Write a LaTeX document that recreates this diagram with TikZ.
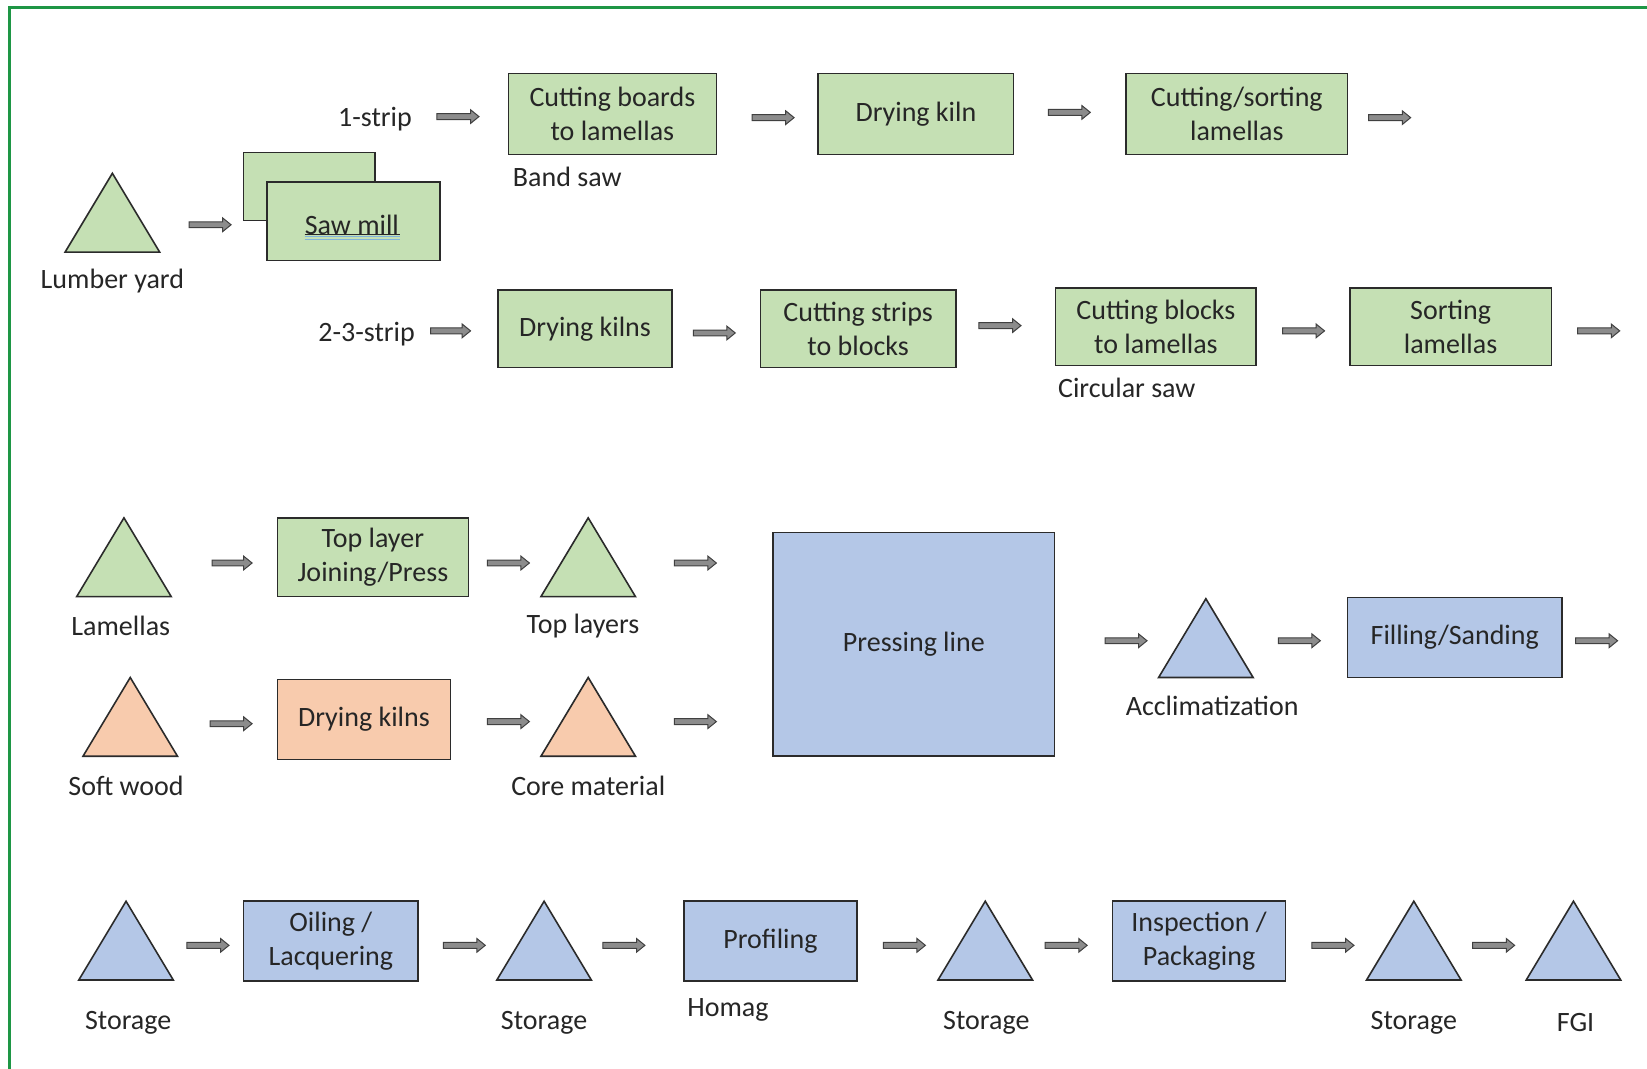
\documentclass[tikz,border=0pt]{standalone}
\usepackage{fontspec}
\setmainfont{Carlito}
\definecolor{gfill}{HTML}{C5E0B4}
\definecolor{bfill}{HTML}{B4C7E7}
\definecolor{ofill}{HTML}{F8CBAD}
\definecolor{edge}{HTML}{2B2B2B}
\definecolor{txt}{HTML}{262626}
\definecolor{frame}{HTML}{1E9645}
\definecolor{arrfill}{HTML}{8C8C8C}
\definecolor{squig}{HTML}{7FB2DC}
\newcommand\mybox[7]{\node[#6, minimum width={(#4-#2)*0.5252pt}, minimum height={(#5-#3)*0.5252pt}] (#1) at ({(#2+#4)/2},{(#3+#5)/2}) {#7};}
\newcommand\mytri[4]{\draw[tri, fill=#4] (#2,#3) -- ++(45,75) -- ++(-90,0) -- cycle; \coordinate (#1) at (#2,#3+50);}
\newcommand\blkarr[4]{\draw[arr] (#2,#4-2.8) -- (#3-8,#4-2.8) -- (#3-8,#4-6.5) -- (#3,#4) -- (#3-8,#4+6.5) -- (#3-8,#4+2.8) -- (#2,#4+2.8) -- cycle; \coordinate (#1) at (#3,#4);}
\begin{document}
\begin{tikzpicture}[x=0.5252pt, y=-0.5252pt,
  every node/.style={font=\fontsize{14}{16.8}\selectfont, text=txt},
  boxbase/.style={draw=edge, line width=0.8pt, inner sep=0pt, align=center},
  gbox/.style={boxbase, fill=gfill},
  bbox/.style={boxbase, fill=bfill},
  obox/.style={boxbase, fill=ofill},
  tri/.style={draw=edge, line width=0.8pt, line join=miter},
  arr/.style={draw=edge!90, fill=arrfill, line width=0.5pt},
  lbl/.style={inner sep=0pt, yshift=-1.5pt}]
\useasboundingbox (0,0) rectangle (1568,1017);
\fill[white] (0,0) rectangle (1568,1017);
\draw[frame, line width=1.5pt] (9.5,6.7) rectangle (1700,1100);

% Row 1
\mytri{ly}{107}{165}{gfill}
\node[lbl] (lyl) at (107,265) {Lumber yard};
\blkarr{a1}{180}{220}{214}
\node[gbox, minimum width={125*0.5252pt}, minimum height={65*0.5252pt}] (smback) at (294.5,177.5) {};
\mybox{sm}{254}{173}{419}{248}{gbox}{}
\node[lbl] (smt) at (335,211) {Saw mill};
\draw[txt, line width=0.5pt] (290,223) -- (381,223);
\draw[squig, line width=0.6pt] (290,225.5) -- (381,225.5);
\draw[squig, line width=0.6pt] (290,228) -- (381,228);
\node[lbl] (s1) at (357,111) {1-strip};
\blkarr{a2}{416}{456}{111}
\mybox{cb}{484}{70}{682}{147}{gbox}{Cutting boards\\to lamellas}
\node[lbl, anchor=west] (bs) at (488,166) {Band saw};
\blkarr{a3}{716}{756}{112}
\mybox{dk}{779}{70}{965}{147}{gbox}{Drying kiln}
\blkarr{a4}{998}{1038}{107}
\mybox{cs}{1072}{70}{1283}{147}{gbox}{Cutting/sorting\\lamellas}
\blkarr{a5}{1303}{1343}{112}

% Row 2
\node[lbl] (s23) at (349,315) {2-3-strip};
\blkarr{a6}{410}{448}{315}
\mybox{dks}{474}{276}{640}{350}{gbox}{Drying kilns}
\blkarr{a7}{660}{700}{317}
\mybox{cst}{724}{276}{910}{350}{gbox}{Cutting strips\\to blocks}
\blkarr{a8}{932}{972}{310}
\mybox{cbl}{1005}{274}{1196}{348}{gbox}{Cutting blocks\\to lamellas}
\node[lbl, anchor=west] (csaw) at (1007,366) {Circular saw};
\blkarr{a9}{1221}{1261}{315}
\mybox{sl}{1285}{274}{1477}{348}{gbox}{Sorting\\lamellas}
\blkarr{a10}{1502}{1542}{315}

% Row 3
\mytri{lam}{118}{493}{gfill}
\node[lbl] (laml) at (115,593) {Lamellas};
\blkarr{a11}{202}{240}{536}
\mybox{tl}{264}{493}{446}{568}{gbox}{Top layer\\Joining/Press}
\blkarr{a12}{464}{504}{536}
\mytri{tly}{560}{493}{gfill}
\node[lbl] (tlyl) at (555,593) {Top layers};
\blkarr{a13}{642}{682}{536}
\mybox{pl}{736}{507}{1004}{720}{bbox}{Pressing line}
\blkarr{a14}{1052}{1092}{610}
\mytri{acc}{1148}{570}{bfill}
\node[lbl] (accl) at (1154,669) {Acclimatization};
\blkarr{a15}{1217}{1257}{610}
\mybox{fs}{1283}{569}{1487}{645}{bbox}{Filling/Sanding}
\blkarr{a16}{1500}{1540}{610}

% Row 4
\mytri{sw}{124}{645}{ofill}
\node[lbl] (swl) at (120,745) {Soft wood};
\blkarr{a17}{200}{240}{689}
\mybox{dko}{264}{647}{429}{723}{obox}{Drying kilns}
\blkarr{a18}{464}{504}{687}
\mytri{cm}{560}{645}{ofill}
\node[lbl] (cml) at (560,745) {Core material};
\blkarr{a19}{642}{682}{687}

% Row 5
\mytri{st1}{120}{858}{bfill}
\node[lbl] (st1l) at (122,971) {Storage};
\blkarr{a20}{178}{218}{900}
\mybox{ol}{232}{858}{398}{934}{bbox}{Oiling /\\Lacquering}
\blkarr{a21}{422}{462}{900}
\mytri{st2}{518}{858}{bfill}
\node[lbl] (st2l) at (518,971) {Storage};
\blkarr{a22}{574}{614}{900}
\mybox{pr}{651}{858}{816}{934}{bbox}{Profiling}
\node[lbl, anchor=west] (hom) at (654,959) {Homag};
\blkarr{a23}{841}{881}{900}
\mytri{st3}{938}{858}{bfill}
\node[lbl] (st3l) at (939,971) {Storage};
\blkarr{a24}{995}{1035}{900}
\mybox{ip}{1059}{858}{1224}{934}{bbox}{Inspection /\\Packaging}
\blkarr{a25}{1249}{1289}{900}
\mytri{st4}{1346}{858}{bfill}
\node[lbl] (st4l) at (1346,971) {Storage};
\blkarr{a26}{1402}{1442}{900}
\mytri{fgi}{1498}{858}{bfill}
\node[lbl] (fgil) at (1500,971) {FGI};
\end{tikzpicture}
\end{document}
